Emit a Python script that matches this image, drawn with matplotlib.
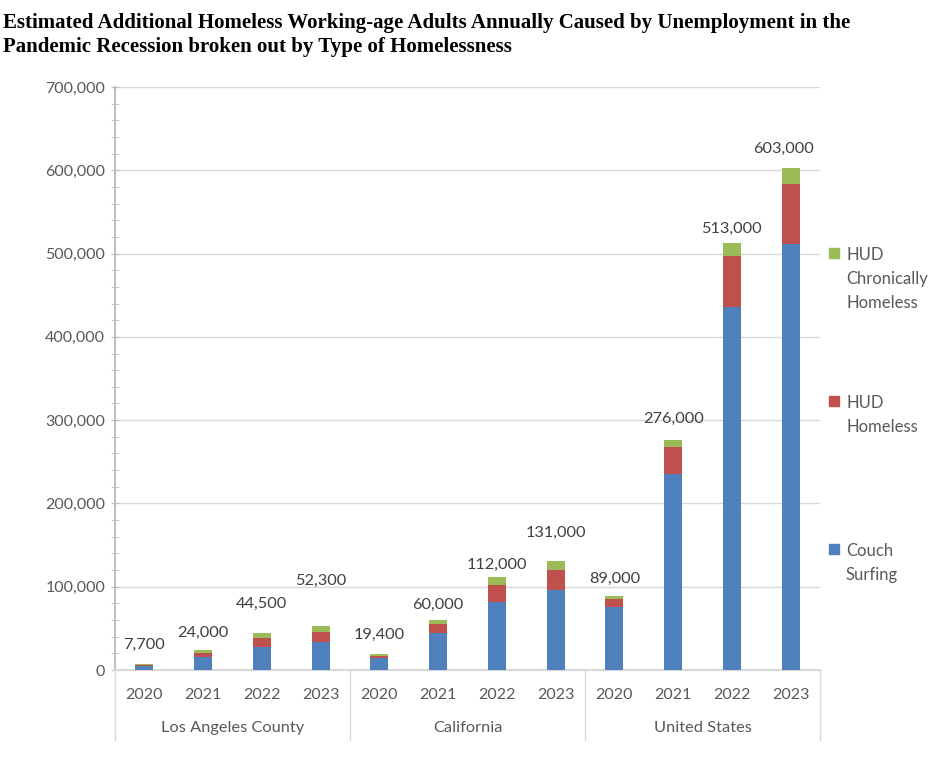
import matplotlib.pyplot as plt
import numpy as np
from matplotlib.patches import Rectangle
from matplotlib.ticker import MultipleLocator, FuncFormatter

regions = ['Los Angeles County', 'California', 'United States']
years = ['2020', '2021', '2022', '2023']

# values in thousands
couch = [5.2, 15.2, 28.0, 33.2, 14.0, 44.0, 81.6, 96.0, 75.3, 235.0, 435.5, 511.8]
hud = [1.2, 5.2, 10.4, 12.4, 3.0, 11.2, 20.8, 24.0, 10.3, 32.7, 61.5, 71.7]
chronic = [1.3, 3.6, 6.1, 6.7, 2.4, 4.8, 9.6, 11.0, 3.4, 8.3, 16.0, 19.5]
totals = ['7,700', '24,000', '44,500', '52,300', '19,400', '60,000',
          '112,000', '131,000', '89,000', '276,000', '513,000', '603,000']

# where each total label sits relative to its bar top (pixels)
label_gap = [19, 17, 29, 46, 19, 15, 12, 28, 17, 21, 14, 19]
label_shift = [0] * 11 + [-7]

blue = '#4F81BD'
red = '#C0504D'
green = '#9BBB59'
grey_txt = '#595959'
line_col = '#BFBFBF'

plt.rcParams['font.family'] = ['Lato', 'DejaVu Sans']

fig = plt.figure(figsize=(9.36, 7.62), dpi=100)
ax = fig.add_axes([115/936, 1 - 670/762, 705/936, 583/762])

x = np.arange(len(couch))
c = np.array(couch) * 1000
h = np.array(hud) * 1000
g = np.array(chronic) * 1000
w = 0.31
ax.bar(x, c, w, color=blue, zorder=3)
ax.bar(x, h, w, bottom=c, color=red, zorder=3)
ax.bar(x, g, w, bottom=c + h, color=green, zorder=3)

for i, lab in enumerate(totals):
    ax.annotate(lab, (x[i], c[i] + h[i] + g[i]),
                xytext=(label_shift[i], label_gap[i]),
                textcoords='offset pixels', ha='center', va='center',
                fontsize=11.8, color='#404040')

ax.set_xlim(-0.5, len(couch) - 0.5)
ax.set_ylim(0, 700000)
ax.yaxis.set_major_locator(MultipleLocator(100000))
ax.yaxis.set_minor_locator(MultipleLocator(20000))
ax.yaxis.set_major_formatter(FuncFormatter(lambda v, p: f'{int(v):,}'))
ax.grid(axis='y', color='#D9D9D9', linewidth=1, zorder=0)
ax.tick_params(axis='y', which='both', direction='inout', length=6,
               color=line_col, labelsize=11.5, labelcolor=grey_txt, pad=4)
ax.tick_params(axis='x', length=0, labelsize=11.5, labelcolor=grey_txt, pad=13)
ax.set_xticks(x)
ax.set_xticklabels(years * len(regions))

for s in ['top', 'right']:
    ax.spines[s].set_visible(False)
ax.spines['left'].set_color(line_col)
ax.spines['left'].set_linewidth(1.5)
ax.spines['bottom'].set_color('#D9D9D9')
ax.spines['bottom'].set_linewidth(1.5)

# category group separators and labels
tr = ax.get_xaxis_transform()
for k in range(len(regions) + 1):
    xb = k * len(years) - 0.5
    ax.plot([xb, xb], [0, -0.12], transform=tr, color='#D9D9D9',
            linewidth=1, clip_on=False)
for k, r in enumerate(regions):
    xc = k * len(years) + (len(years) - 1) / 2
    ax.text(xc, -0.1, r, transform=tr, ha='center', va='center',
            fontsize=11.8, color=grey_txt)

# legend, one square and label per series
legend_items = [(green, 'HUD\nChronically\nHomeless', 253),
                (red, 'HUD\nHomeless', 401),
                (blue, 'Couch\nSurfing', 549)]
for col, lab, ypix in legend_items:
    fig.patches.append(Rectangle((829/936, 1 - (ypix + 5)/762), 10/936, 10/762,
                                 transform=fig.transFigure, color=col))
    fig.text(846/936, 1 - (ypix - 6)/762, lab, ha='left', va='top',
             fontsize=12, color=grey_txt, linespacing=1.6)

fig.text(3/936, 1 - 13/762,
         'Estimated Additional Homeless Working-age Adults Annually Caused by Unemployment in the\n'
         'Pandemic Recession broken out by Type of Homelessness',
         ha='left', va='top', fontsize=15, fontweight='bold',
         family='Liberation Serif', linespacing=1.25)

fig.savefig('out.png', dpi=100)
